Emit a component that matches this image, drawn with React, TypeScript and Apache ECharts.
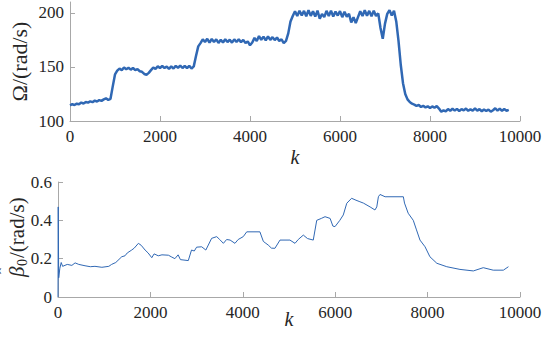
import React, { useEffect, useRef } from 'react';
import * as echarts from 'echarts';

// Top panel: Ω samples every 50 steps of k (k = 0 … 9750)
const omegaStep = 50;
const omega = [
  114.5, 115.5, 114.8, 116, 115.5, 117, 116.2, 117.5, 117, 118.2,
  117.4, 118.8, 118, 119.3, 118.6, 120, 121, 119.5, 120.5, 132,
  143, 146.5, 148.5, 147, 149.5, 147.8, 149.2, 147.5, 149, 147,
  148, 146, 145.5, 143.5, 142.8, 144.5, 147, 149.5, 148.2, 150.5,
  149, 150.8, 149, 150.3, 148.2, 150.5, 148.5, 151, 149.2, 151.2,
  149, 151, 148.8, 151, 148.5, 150.5, 160, 169, 172, 175.5,
  173, 176, 172.5, 175.8, 173, 175.5, 172.2, 175, 172.5, 175.5,
  173, 175.2, 172.4, 175.5, 173, 175.6, 172.8, 175, 172, 173.5,
  170, 172.5, 176.8, 174, 178.5, 175, 178, 174.5, 178.2, 175,
  177.5, 174.8, 177.2, 174, 175.5, 172, 174, 181, 192, 197,
  201.5, 197, 202, 197.5, 201.8, 196.8, 202.5, 197.2, 201.5, 196.5,
  202, 194.5, 199, 196, 201.8, 197, 202, 196.5, 201.2, 197.5,
  201.5, 196, 201, 196.5, 199, 191, 196, 190.5, 196, 201.5,
  197, 202.3, 197.2, 201.8, 196.8, 202, 197, 199.5, 186, 176,
  190, 199, 202.5, 197.5, 202, 192, 174, 152, 135, 125,
  120, 117.5, 116, 115.2, 114, 114.8, 113, 114, 112.5, 113.6,
  112, 113.5, 112.2, 113.8, 111.5, 108.5, 109.8, 108.8, 111, 109.5,
  111.3, 109.6, 111.2, 109.2, 111, 109.8, 111.5, 109.4, 110.8, 109.5,
  111.6, 109.6, 111, 109, 110.7, 109.3, 110.5, 108.6, 110, 111.8,
  109.6, 111.5, 109.4, 111, 109.5, 110.3,
];
const omegaK = omega.map((_, i) => i * omegaStep);

// Bottom panel: β̂0 (k, value)
const betaK = [
  0, 5, 15, 40, 70, 100, 200, 300, 370, 450,
  585, 700, 800, 950, 1100, 1160, 1250, 1380, 1450, 1500,
  1595, 1650, 1740, 1800, 1885, 1950, 2030, 2080, 2170, 2250,
  2390, 2450, 2530, 2600, 2650, 2820, 2890, 2950, 3000, 3110,
  3200, 3325, 3435, 3500, 3580, 3650, 3725, 3830, 3900, 4010,
  4085, 4370, 4445, 4500, 4550, 4620, 4695, 4805, 5020, 5130,
  5200, 5310, 5400, 5525, 5600, 5700, 5780, 5890, 5950, 5995,
  6100, 6175, 6250, 6355, 6450, 6535, 6610, 6755, 6860, 6900,
  6935, 6970, 7080, 7475, 7500, 7580, 7690, 7760, 7835, 7945,
  8050, 8200, 8415, 8700, 8990, 9205, 9420, 9640, 9750,
];
const beta = [
  0.0, 0.47, 0.10, 0.15, 0.18, 0.16, 0.17, 0.165, 0.178, 0.17,
  0.163, 0.158, 0.16, 0.155, 0.16, 0.17, 0.18, 0.21, 0.215, 0.23,
  0.245, 0.255, 0.28, 0.27, 0.245, 0.23, 0.205, 0.225, 0.215, 0.22,
  0.218, 0.21, 0.2, 0.22, 0.195, 0.19, 0.245, 0.24, 0.26, 0.262,
  0.245, 0.306, 0.315, 0.3, 0.28, 0.3, 0.297, 0.28, 0.3, 0.315,
  0.34, 0.34, 0.29, 0.28, 0.271, 0.255, 0.254, 0.297, 0.297, 0.28,
  0.3, 0.323, 0.305, 0.297, 0.40, 0.41, 0.419, 0.41, 0.37, 0.367,
  0.40, 0.428, 0.489, 0.515, 0.505, 0.497, 0.49, 0.47, 0.454, 0.47,
  0.523, 0.535, 0.523, 0.523, 0.49, 0.437, 0.40, 0.35, 0.297, 0.262,
  0.21, 0.176, 0.158, 0.144, 0.136, 0.153, 0.14, 0.14, 0.158,
];

const omegaTicks = [100, 150, 200];
const betaTicks = [0, 0.2, 0.4, 0.6];

const FONT = 'Liberation Serif';
const TEXT = '#262626';
const AXIS = '#a8a8a8';
const LINE = '#3068b4';

export default function App() {
  const ref = useRef<HTMLDivElement>(null);
  useEffect(() => {
    if (!ref.current) return;
    const chart = echarts.init(ref.current, undefined, { renderer: 'svg' });
    const xAxisBase = (gridIndex: number, nameGap: number) => ({
      type: 'value',
      gridIndex,
      min: 0,
      max: 10000,
      interval: 2000,
      axisLine: { show: true, lineStyle: { color: AXIS, width: 1 } },
      axisTick: { show: true, inside: true, length: 5, lineStyle: { color: AXIS } },
      axisLabel: {
        color: TEXT,
        fontSize: 17,
        fontFamily: FONT,
        margin: 7,
        formatter: (v: number) => String(v),
      },
      splitLine: { show: false },
      name: 'k',
      nameLocation: 'middle',
      nameGap,
      nameMoveOverlap: false,
      nameTextStyle: { color: TEXT, fontSize: 20, fontFamily: FONT, fontStyle: 'italic' },
    });
    const yCommon = {
      type: 'value',
      axisLine: { show: true, lineStyle: { color: AXIS, width: 1 } },
      splitLine: { show: false },
      nameLocation: 'middle',
      nameRotate: 90,
      nameMoveOverlap: false,
    };
    const nameStyle = (fontSize: number, italic = false) => ({
      fill: TEXT,
      fontFamily: FONT,
      fontSize,
      fontStyle: italic ? 'italic' : 'normal',
      verticalAlign: 'middle',
      align: 'left',
    });
    chart.setOption({
      animation: false,
      grid: [
        { left: 58, top: 2, width: 462, height: 119 },
        { left: 58, top: 182, width: 462, height: 115 },
      ],
      xAxis: [xAxisBase(0, 26), xAxisBase(1, 12)],
      yAxis: [
        {
          ...yCommon,
          gridIndex: 0,
          min: 100,
          max: 210,
          axisTick: { show: true, inside: true, length: 5, lineStyle: { color: AXIS }, customValues: omegaTicks },
          axisLabel: { color: TEXT, fontSize: 17, fontFamily: FONT, margin: 6, customValues: omegaTicks },
          name: 'Ω/(rad/s)',
          nameGap: 40,
          nameTextStyle: { color: TEXT, fontSize: 22, fontFamily: FONT },
        },
        {
          ...yCommon,
          gridIndex: 1,
          min: 0,
          max: 0.6,
          axisTick: { show: true, inside: true, length: 5, lineStyle: { color: AXIS }, customValues: betaTicks },
          axisLabel: {
            color: TEXT,
            fontSize: 17,
            fontFamily: FONT,
            margin: 6,
            customValues: betaTicks,
            formatter: (v: number) => (v === 0 ? '0' : v.toFixed(1)),
          },
        },
      ],
      graphic: [
        {
          type: 'group',
          x: 17,
          y: 235,
          rotation: Math.PI / 2,
          children: [
            { type: 'text', x: -42, y: 0, style: { ...nameStyle(21, true), text: 'β' } },
            { type: 'text', x: -39, y: -12, style: { ...nameStyle(18), text: 'ˆ' } },
            { type: 'text', x: -31, y: 5, style: { ...nameStyle(14), text: '0' } },
            { type: 'text', x: -23, y: 0, style: { ...nameStyle(21), text: '/(rad/s)' } },
          ],
        },
      ],
      series: [
        {
          type: 'line',
          xAxisIndex: 0,
          yAxisIndex: 0,
          data: omegaK.map((k, i) => [k, omega[i]]),
          showSymbol: false,
          lineStyle: { color: LINE, width: 2.5 },
        },
        {
          type: 'line',
          xAxisIndex: 1,
          yAxisIndex: 1,
          data: betaK.map((k, i) => [k, beta[i]]),
          showSymbol: false,
          lineStyle: { color: LINE, width: 1 },
        },
      ],
    });
    return () => chart.dispose();
  }, []);
  return (
    <div
      ref={ref}
      style={{ position: 'fixed', left: 0, top: 0, width: 550, height: 342, background: '#fff' }}
    />
  );
}
